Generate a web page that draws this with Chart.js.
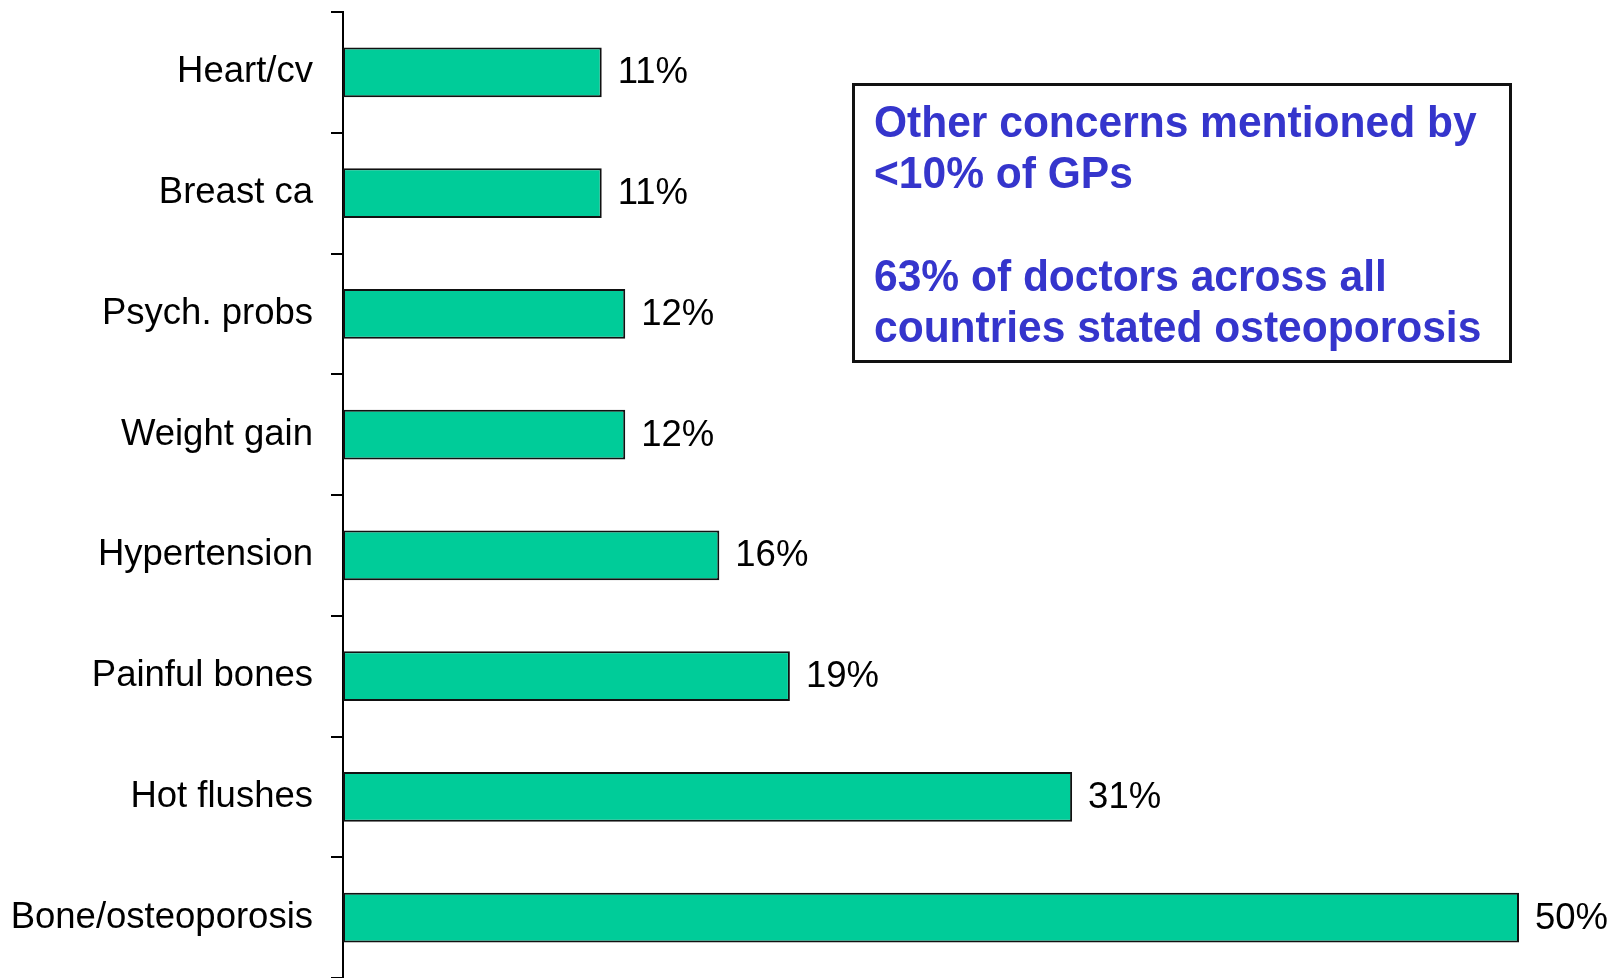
<!DOCTYPE html>
<html>
<head>
<meta charset="utf-8">
<script src="https://cdn.jsdelivr.net/npm/chart.js@4/dist/chart.umd.min.js"></script>
<style>
  html, body { margin: 0; padding: 0; background: #ffffff; }
  #wrap { width: 1619px; height: 978px; position: relative; }
</style>
</head>
<body>
<div id="wrap"><canvas id="barChart"></canvas></div>
<script>
// data
const categories = ['Heart/cv', 'Breast ca', 'Psych. probs', 'Weight gain',
                    'Hypertension', 'Painful bones', 'Hot flushes', 'Bone/osteoporosis'];
const percentValues = [11, 11, 12, 12, 16, 19, 31, 50];
const noteLines = ['Other concerns mentioned by', '<10% of GPs', '',
                   '63% of doctors across all', 'countries stated osteoporosis'];

// value labels at the end of each bar
const valueLabels = {
    id: 'valueLabels',
    afterDatasetsDraw(chart) {
        const ctx = chart.ctx;
        const meta = chart.getDatasetMeta(0);
        ctx.save();
        ctx.font = '36.5px "Liberation Sans", Arial, sans-serif';
        ctx.fillStyle = '#000000';
        ctx.textAlign = 'left';
        ctx.textBaseline = 'middle';
        meta.data.forEach(function(bar, i) {
            ctx.fillText(percentValues[i] + '%', bar.x + 16, bar.y + 1);
        });
        ctx.restore();
    }
};

// the boxed note on the right
const noteBox = {
    id: 'noteBox',
    afterDraw(chart) {
        const ctx = chart.ctx;
        ctx.save();
        ctx.lineWidth = 3;
        ctx.strokeStyle = '#111111';
        ctx.strokeRect(853.5, 84.5, 657, 277);
        ctx.font = 'bold 45px "Liberation Sans", Arial, sans-serif';
        ctx.fillStyle = '#3535cc';
        ctx.textAlign = 'left';
        ctx.textBaseline = 'alphabetic';
        noteLines.forEach(function(line, i) {
            ctx.save();
            ctx.translate(874, 137 + i * 51.3);
            ctx.scale(0.945, 1);
            ctx.fillText(line, 0, 0);
            ctx.restore();
        });
        ctx.restore();
    }
};

new Chart(document.getElementById('barChart'), {
    type: 'bar',
    data: {
        labels: categories,
        datasets: [{
            data: percentValues,
            backgroundColor: '#00cc99',
            borderColor: '#111111',
            borderWidth: 2,
            borderSkipped: false,
            barPercentage: 0.41,
            categoryPercentage: 1
        }]
    },
    options: {
        indexAxis: 'y',
        responsive: true,
        maintainAspectRatio: false,
        animation: false,
        layout: { padding: { top: 12, right: 100, bottom: 0, left: 0 } },
        plugins: {
            legend: { display: false },
            tooltip: { enabled: false }
        },
        scales: {
            x: {
                display: false,
                min: 0,
                max: 50
            },
            y: {
                afterFit: function(scale) {
                    scale.width = 343;
                    scale.paddingTop = 0;
                    scale.paddingBottom = 0;
                },
                border: { display: true, color: '#000000', width: 2 },
                grid: {
                    drawOnChartArea: false,
                    drawTicks: true,
                    tickLength: 12,
                    color: '#000000',
                    lineWidth: 2,
                    offset: true
                },
                ticks: {
                    padding: 18,
                    color: '#000000',
                    font: { family: '"Liberation Sans", Arial, sans-serif', size: 36.5 }
                }
            }
        }
    },
    plugins: [valueLabels, noteBox]
});
</script>
</body>
</html>
